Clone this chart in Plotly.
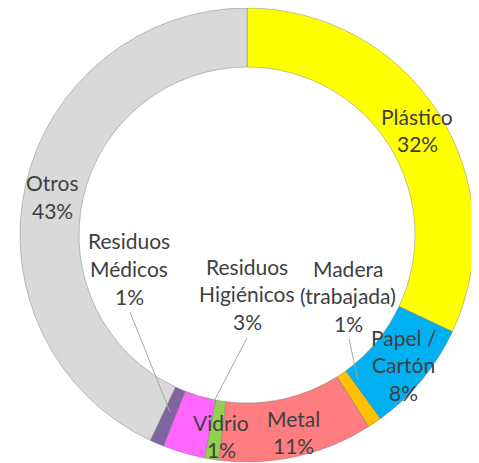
import plotly.graph_objects as go

# data
labels = ['Plástico', 'Papel / Cartón', 'Madera (trabajada)', 'Metal',
          'Vidrio', 'Residuos Higiénicos', 'Residuos Médicos', 'Otros']
values = [32, 8, 1, 11, 1, 3, 1, 43]
label_lines = [['Plástico'], ['Papel /', 'Cartón'], ['Madera', '(trabajada)'],
               ['Metal'], ['Vidrio'], ['Residuos', 'Higiénicos'],
               ['Residuos', 'Médicos'], ['Otros']]

colors = ['#FFFF00', '#00B0F0', '#FFC000', '#FF7C80',
          '#92D050', '#FF66FF', '#8064A2', '#D9D9D9']

# page body has an 8px margin, so the figure starts at (8, 8)
OFF = 8
W, H = 471, 455

# label anchor (first line centre, page pixels from top-left)
label_pos = [(417, 116), (403, 337), (348, 268), (293, 418),
             (221, 422), (247, 266), (129, 241), (52, 183)]
line_gap = 27.5

# leader lines for the small slices (page pixels)
leaders = [((130, 312), (170, 412)),
           ((247, 338), (213, 403)),
           ((349, 339), (358, 380))]


def px(x, y):
    return (x - OFF) / W, 1 - (y - OFF) / H


cx, cy, r = 247, 235, 227
dx0, dy1 = px(cx - r, cy - r)
dx1, dy0 = px(cx + r, cy + r)

fig = go.Figure(
    go.Pie(
        labels=labels,
        values=values,
        sort=False,
        direction='clockwise',
        rotation=0,
        hole=0.74,
        textinfo='none',
        hoverinfo='label+percent',
        marker=dict(colors=colors,
                    line=dict(color='rgba(120,120,120,0.6)', width=0.75)),
        domain=dict(x=[max(dx0, 0), min(dx1, 1)],
                    y=[max(dy0, 0), min(dy1, 1)]),
        showlegend=False
    )
)

annotations = []
for lines, v, (x0, y0) in zip(label_lines, values, label_pos):
    for i, t in enumerate(lines + [f'{v}%']):
        ax, ay = px(x0, y0 + i * line_gap)
        annotations.append(dict(
            x=ax, y=ay, xref='paper', yref='paper',
            text=t, showarrow=False,
            xanchor='center', yanchor='middle',
            font=dict(family='Lato', size=21, color='#404040')
        ))

shapes = []
for (x0, y0), (x1, y1) in leaders:
    a0, b0 = px(x0, y0)
    a1, b1 = px(x1, y1)
    shapes.append(dict(
        type='line', xref='paper', yref='paper',
        x0=a0, y0=b0, x1=a1, y1=b1,
        line=dict(color='#A6A6A6', width=1)
    ))

fig.update_layout(
    width=W,
    height=H,
    margin=dict(l=0, r=0, t=0, b=0),
    paper_bgcolor='white',
    plot_bgcolor='white',
    annotations=annotations,
    shapes=shapes
)

fig.write_html("out.html")
